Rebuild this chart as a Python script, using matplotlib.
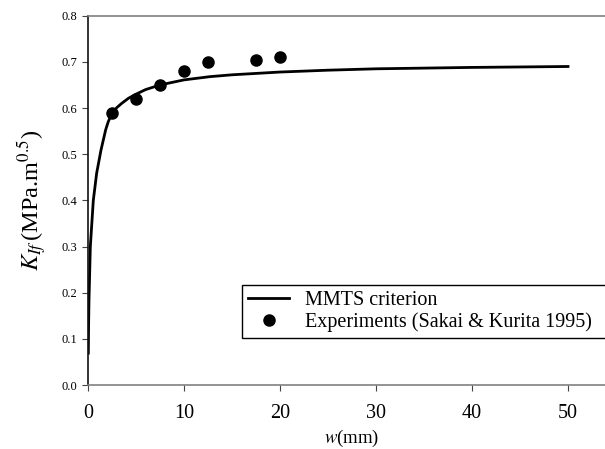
import matplotlib
matplotlib.use("Agg")
from matplotlib import pyplot as plt

# MMTS criterion curve
w_mmts = [0.03, 0.06, 0.1, 0.24, 0.55, 0.9, 1.35, 1.84, 2.1, 2.4, 2.7, 3.0, 3.5, 4.2,
          4.9, 6.0, 7.5, 10.0, 12.7, 15.0, 20.0, 25.0, 30.0, 40.0, 50.0]
k_mmts = [0.069, 0.13, 0.184, 0.30, 0.40, 0.459, 0.509, 0.553, 0.570, 0.584, 0.594,
          0.601, 0.610, 0.621, 0.629, 0.640, 0.650, 0.661, 0.668, 0.672, 0.678,
          0.682, 0.685, 0.688, 0.690]

# Experiments (Sakai & Kurita 1995)
w_exp = [2.5, 5.0, 7.5, 10.0, 12.5, 17.5, 20.0]
k_exp = [0.59, 0.62, 0.65, 0.68, 0.70, 0.705, 0.71]

x_ticks = [0, 10, 20, 30, 40, 50]
y_ticks = [0.0, 0.1, 0.2, 0.3, 0.4, 0.5, 0.6, 0.7, 0.8]

plt.rcParams["font.family"] = ["Liberation Serif", "DejaVu Serif"]
plt.rcParams["mathtext.fontset"] = "stix"

fig = plt.figure(figsize=(6.05, 4.49), dpi=100)
ax = fig.add_axes([0.1455, 0.1425, 0.8727, 0.8225])

ax.plot(w_mmts, k_mmts, color="black", linewidth=2, label="MMTS criterion")
ax.plot(w_exp, k_exp, "o", color="black", markersize=8, linestyle="none",
        label="Experiments (Sakai & Kurita 1995)")

ax.set_xlim(0, 55)
ax.set_ylim(0, 0.8)
ax.set_xticks(x_ticks)
ax.set_yticks(y_ticks)
ax.set_yticklabels([f"{v:.1f}" for v in y_ticks])
ax.tick_params(axis="x", labelsize=14.5, direction="out", length=4, pad=10,
               color="#444444")
ax.tick_params(axis="y", labelsize=9, direction="out", length=4, color="#444444")

ax.spines["left"].set_color("#111111")
ax.spines["bottom"].set_color("#808080")
ax.spines["top"].set_color("#808080")
ax.spines["right"].set_visible(False)
for s in ax.spines.values():
    s.set_linewidth(1.2)

ax.set_xlabel(r"$w$(mm)", fontsize=13.5, labelpad=3)
ax.set_ylabel(r"$K_{If}\,$(MPa.m$^{0.5}$)", fontsize=17.5, labelpad=9)

# legend box runs off the right edge, as in the reference
leg = ax.legend(loc="upper left", bbox_to_anchor=(0.2917, 0.0, 1.0, 0.2708),
                mode="expand", fontsize=14.5, frameon=True, fancybox=False,
                edgecolor="black", framealpha=1, borderpad=0.3,
                labelspacing=0.12, handlelength=2.05, handletextpad=0.8,
                numpoints=1, borderaxespad=0)
frame = leg.get_frame()
frame.set_linewidth(1.0)
frame.set_clip_box(fig.bbox)
frame.set_clip_on(True)

fig.savefig("out.png", dpi=100)
